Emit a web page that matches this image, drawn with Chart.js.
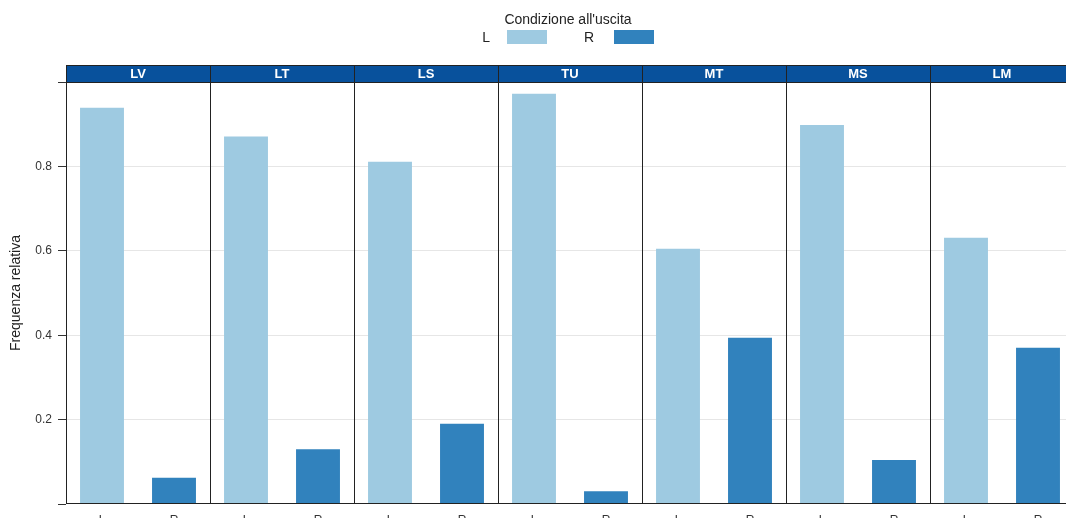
<!DOCTYPE html>
<html>
<head>
<meta charset="utf-8">
<script src="https://cdn.jsdelivr.net/npm/chart.js@4.4.1/dist/chart.umd.min.js"></script>
<style>
  html, body { margin: 0; padding: 0; overflow: hidden; background: #fff; }
  #wrap { width: 1074px; height: 530px; position: relative; }
</style>
</head>
<body>
<div id="wrap"><canvas id="chart"></canvas></div>
<script>
// data
const panels = ['LV', 'LT', 'LS', 'TU', 'MT', 'MS', 'LM'];
const groups = ['L', 'R'];
const valuesL = [0.939, 0.871, 0.811, 0.972, 0.605, 0.898, 0.631];
const valuesR = [0.062, 0.130, 0.190, 0.030, 0.394, 0.104, 0.370];
const yTicks = [0.2, 0.4, 0.6, 0.8];
const legendTitle = "Condizione all'uscita";
const yTitle = 'Frequenza relativa';

const colL = '#9ECAE1';
const colR = '#3182BD';
const stripCol = '#08519C';

Chart.defaults.font.family = '"Liberation Sans", Arial, sans-serif';
Chart.defaults.color = '#333';

const labels = panels.flatMap(() => groups);
const dataL = panels.flatMap((p, i) => [valuesL[i], null]);
const dataR = panels.flatMap((p, i) => [null, valuesR[i]]);

const lattice = {
  id: 'lattice',
  afterDatasetsDraw(chart) {
    const { ctx, chartArea: a } = chart;
    const pw = (a.right - a.left) / panels.length;
    const stripH = 17;
    const top = a.top - stripH;
    ctx.save();
    // strips
    panels.forEach((p, i) => {
      const x0 = a.left + i * pw;
      ctx.fillStyle = stripCol;
      ctx.fillRect(x0, top, pw, stripH);
      ctx.fillStyle = '#fff';
      ctx.font = 'bold 13px "Liberation Sans", Arial, sans-serif';
      ctx.textAlign = 'center';
      ctx.textBaseline = 'middle';
      ctx.fillText(p, x0 + pw / 2, top + stripH / 2 + 1);
    });
    // panel borders
    ctx.strokeStyle = '#222';
    ctx.lineWidth = 1;
    ctx.beginPath();
    for (let i = 0; i <= panels.length; i++) {
      const x = Math.round(a.left + i * pw) + 0.5;
      ctx.moveTo(x, top);
      ctx.lineTo(x, a.bottom);
    }
    ctx.moveTo(a.left, Math.round(top) + 0.5);
    ctx.lineTo(a.right, Math.round(top) + 0.5);
    ctx.moveTo(a.left, Math.round(a.top) + 0.5);
    ctx.lineTo(a.right, Math.round(a.top) + 0.5);
    ctx.moveTo(a.left, Math.round(a.bottom) - 0.5);
    ctx.lineTo(a.right, Math.round(a.bottom) - 0.5);
    ctx.stroke();

    // legend
    const cx = (a.left + a.right) / 2 - 2;
    ctx.fillStyle = '#222';
    ctx.font = '14px "Liberation Sans", Arial, sans-serif';
    ctx.textAlign = 'center';
    ctx.textBaseline = 'middle';
    ctx.fillText(legendTitle, cx, 20);
    ctx.textAlign = 'right';
    ctx.fillText(groups[0], cx - 78, 38);
    ctx.fillText(groups[1], cx + 26, 38);
    ctx.fillStyle = colL;
    ctx.fillRect(cx - 61, 30, 40, 14);
    ctx.fillStyle = colR;
    ctx.fillRect(cx + 46, 30, 40, 14);
    ctx.restore();
  }
};

new Chart(document.getElementById('chart'), {
  type: 'bar',
  data: {
    labels: labels,
    datasets: [
      { label: groups[0], data: dataL, backgroundColor: colL, grouped: false,
        barPercentage: 0.61, categoryPercentage: 1 },
      { label: groups[1], data: dataR, backgroundColor: colR, grouped: false,
        barPercentage: 0.61, categoryPercentage: 1 }
    ]
  },
  options: {
    responsive: true,
    maintainAspectRatio: false,
    animation: false,
    devicePixelRatio: 1,
    layout: { padding: { top: 82, left: 0, right: 0, bottom: 0 } },
    plugins: {
      legend: { display: false },
      tooltip: { enabled: false }
    },
    scales: {
      x: {
        grid: { display: false, drawTicks: false },
        border: { display: false },
        ticks: { padding: 9, font: { size: 12 }, color: '#333' },
        afterFit: (s) => { s.height = 26; }
      },
      y: {
        min: 0,
        max: 1,
        border: { display: false },
        afterBuildTicks: (s) => {
          s.ticks = [0, ...yTicks, 1].map(v => ({ value: v }));
        },
        ticks: {
          padding: 6,
          font: { size: 12 },
          color: '#333',
          callback: (v) => yTicks.includes(v) ? v.toFixed(1) : ''
        },
        grid: {
          color: (c) => yTicks.includes(c.tick && c.tick.value) ? '#e6e6e6' : 'rgba(0,0,0,0)',
          tickColor: '#333',
          tickLength: 8
        },
        title: {
          display: true,
          text: yTitle,
          color: '#222',
          font: { size: 14 },
          padding: { top: 8, bottom: 0 }
        },
        afterFit: (s) => { s.width = 66; }
      }
    }
  },
  plugins: [lattice]
});
</script>
</body>
</html>
